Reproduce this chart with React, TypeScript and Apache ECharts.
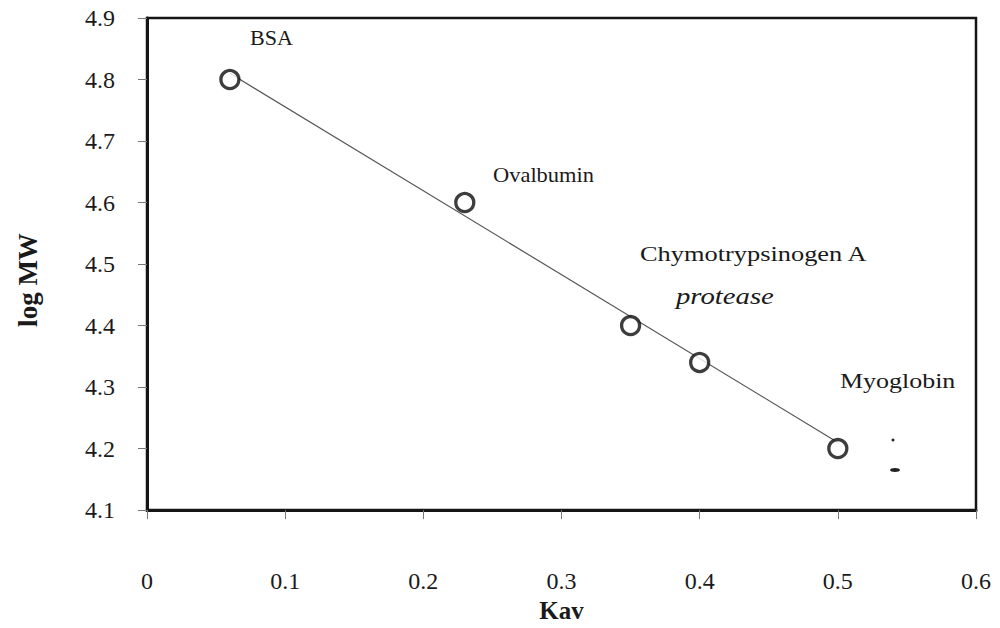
import React, { useEffect, useRef } from "react";
import * as echarts from "echarts";

const kav = [0.06, 0.23, 0.35, 0.4, 0.5];
const logMW = [4.8, 4.6, 4.4, 4.34, 4.2];
const fitKav = [0.06, 0.5];
const fitLogMW = [4.81, 4.21];
const annotationTexts = ["BSA", "Ovalbumin", "Chymotrypsinogen A", "protease", "Myoglobin"];

const SERIF = "'Liberation Serif', 'DejaVu Serif', serif";

export default function App() {
  const ref = useRef<HTMLDivElement>(null);
  useEffect(() => {
    document.body.style.margin = "0";
    const chart = echarts.init(ref.current!, undefined, { renderer: "svg" });
    const pts = kav.map((x, i) => [x, logMW[i]]);
    const fit = fitKav.map((x, i) => [x, fitLogMW[i]]);
    // [x, y, italic, fontSize, scaleX]
    const annPos: [number, number, boolean, number, number][] = [
      [250, 28, false, 21, 1.05],
      [493, 164, false, 22, 1.02],
      [640, 242, false, 22, 1.2],
      [676, 285, true, 23, 1.25],
      [840, 370, false, 22, 1.18],
    ];
    chart.setOption({
      animation: false,
      backgroundColor: "#ffffff",
      grid: {
        left: 147,
        top: 18,
        right: 24,
        bottom: 111,
        show: true,
        borderColor: "#151515",
        borderWidth: 2.5,
      },
      xAxis: {
        type: "value",
        min: 0,
        max: 0.6,
        interval: 0.1,
        name: "Kav",
        nameLocation: "middle",
        nameGap: 60,
        nameTextStyle: { fontFamily: SERIF, fontWeight: "bold", fontSize: 25, color: "#1a1a1a" },
        axisLine: { show: true, onZero: false, lineStyle: { color: "#151515", width: 3 } },
        axisTick: { show: true, inside: false, length: 9, lineStyle: { color: "#777", width: 1 } },
        axisLabel: { margin: 59, fontFamily: SERIF, fontSize: 24, color: "#1a1a1a" },
        splitLine: { show: false },
      },
      yAxis: {
        type: "value",
        min: 4.1,
        max: 4.9,
        interval: 0.1,
        axisLine: { show: true, onZero: false, lineStyle: { color: "#151515", width: 3 } },
        axisTick: { show: true, inside: false, length: 9, lineStyle: { color: "#777", width: 1 } },
        axisLabel: {
          margin: 32,
          fontFamily: SERIF,
          fontSize: 24,
          color: "#1a1a1a",
          formatter: (v: number) => v.toFixed(1),
        },
        splitLine: { show: false },
      },
      graphic: [
        {
          type: "text",
          x: 28,
          y: 280,
          rotation: Math.PI / 2,
          style: {
            text: "log MW",
            font: `bold 27px ${SERIF}`,
            fill: "#1a1a1a",
            textAlign: "center",
            textVerticalAlign: "middle",
          },
        },
        ...annotationTexts.map((t, i) => ({
          type: "text",
          x: annPos[i][0],
          y: annPos[i][1],
          scaleX: annPos[i][4],
          style: {
            text: t,
            font: `${annPos[i][2] ? "italic " : ""}${annPos[i][3]}px ${SERIF}`,
            fill: "#1a1a1a",
          },
        })),
        { type: "circle", shape: { cx: 893, cy: 440, r: 1.5 }, style: { fill: "#222" } },
        { type: "ellipse", shape: { cx: 895, cy: 470, rx: 5, ry: 2 }, style: { fill: "#222" } },
      ],
      series: [
        {
          type: "line",
          data: fit,
          symbol: "none",
          lineStyle: { color: "#555", width: 1.2 },
          z: 1,
        },
        {
          type: "scatter",
          data: pts,
          symbol: "circle",
          symbolSize: 18,
          itemStyle: { color: "#ffffff", borderColor: "#0d0d0d", borderWidth: 3.3 },
          z: 3,
        },
      ],
    });
    return () => chart.dispose();
  }, []);
  return <div ref={ref} style={{ width: 1000, height: 628 }} />;
}
